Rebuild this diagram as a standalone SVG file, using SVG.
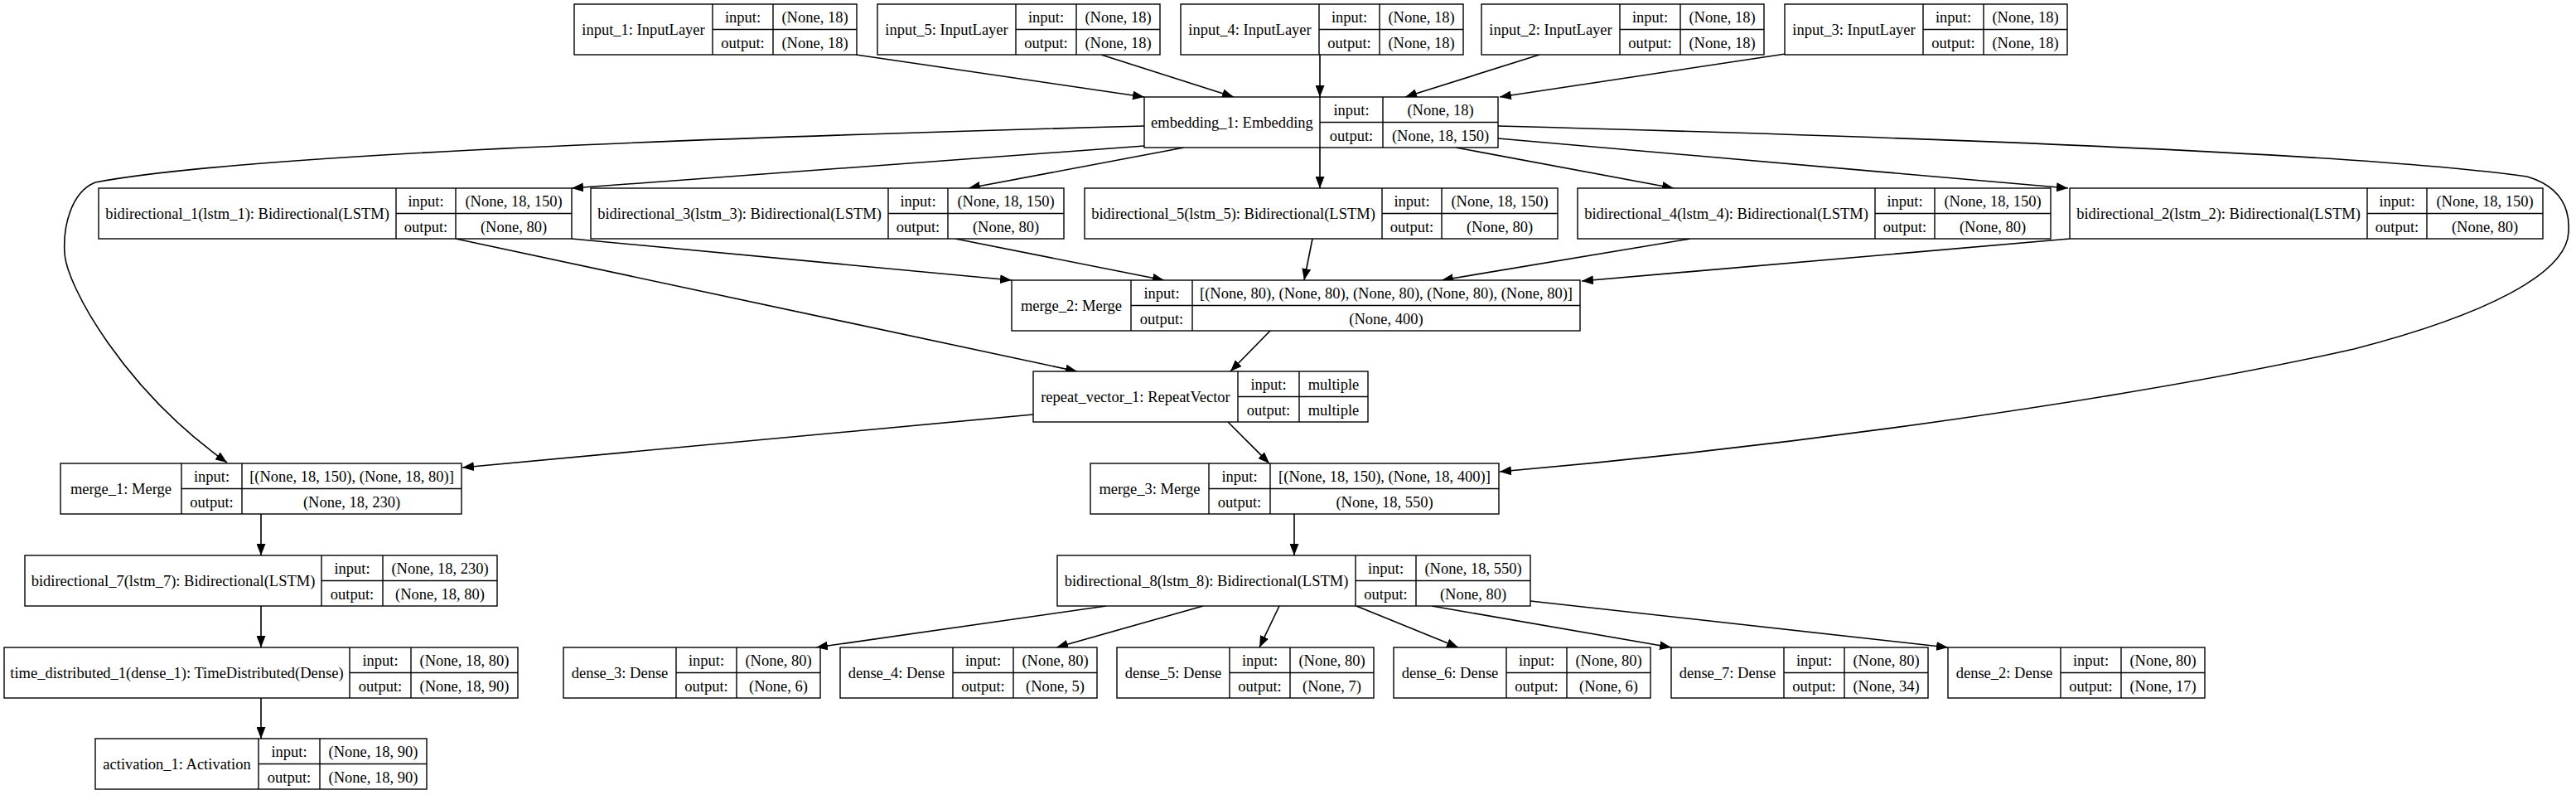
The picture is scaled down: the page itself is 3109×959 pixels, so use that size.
<svg xmlns="http://www.w3.org/2000/svg" width="3109" height="959" viewBox="0 0 3109 959">
<defs>
<marker id="ah" markerUnits="userSpaceOnUse" markerWidth="15" markerHeight="11" refX="14" refY="5.5" orient="auto"><path d="M0,0 L14,5.5 L0,11 z" fill="#000"/></marker>
<style>
.b{fill:#fff;stroke:#000;stroke-width:1.4}
.d{stroke:#000;stroke-width:1.4;fill:none}
.t{font-family:"Liberation Serif","Times New Roman",serif;font-size:18.5px;fill:#000;text-anchor:middle}
.e{stroke:#000;stroke-width:1.6;fill:none;marker-end:url(#ah)}
</style>
</defs>
<rect width="3109" height="959" fill="#fff"/>
<g id="connectors">
<path class="e" d="M1033,66 L1381,117"/>
<path class="e" d="M1329,66 L1489,117"/>
<path class="e" d="M1593,66 L1593,117"/>
<path class="e" d="M1858,66 L1696,117"/>
<path class="e" d="M2155,65 L1810,117"/>
<path class="e" d="M1381,176 L690,227"/>
<path class="e" d="M1429,178 L1169,227"/>
<path class="e" d="M1593,178 L1593,227"/>
<path class="e" d="M1757,178 L2020,227"/>
<path class="e" d="M1808,167 L2496,227"/>
<path class="e" d="M1381,152 C900,165 300,185 115,220 C85,232 76,275 78,305 C80,345 150,470 274,558"/>
<path class="e" d="M1808,152 C2300,165 2850,185 3050,213 C3090,225 3102,250 3100,280 C3098,330 3000,380 2841,421 C2600,475 2200,535 1810,569"/>
<path class="e" d="M690,288 L1221,338"/>
<path class="e" d="M1153,288 L1405,338"/>
<path class="e" d="M1584,288 L1574,338"/>
<path class="e" d="M2040,288 L1740,338"/>
<path class="e" d="M2498,288 L1909,339"/>
<path class="e" d="M550,288 L1300,448"/>
<path class="e" d="M1533,399 L1485,448"/>
<path class="e" d="M1247,500 L558,564"/>
<path class="e" d="M1482,509 L1532,559"/>
<path class="e" d="M315,620 L315,670"/>
<path class="e" d="M315,731 L315,781"/>
<path class="e" d="M315,842 L315,891"/>
<path class="e" d="M1562,620 L1562,670"/>
<path class="e" d="M1335,731 L985,781"/>
<path class="e" d="M1452,731 L1275,781"/>
<path class="e" d="M1544,731 L1520,781"/>
<path class="e" d="M1637,731 L1760,781"/>
<path class="e" d="M1728,731 L2017,781"/>
<path class="e" d="M1847,725 L2351,781"/>
</g>
<g id="input_1"><rect class="b" x="693" y="5" width="341" height="61"/><path class="d" d="M860,5V66M933,5V66M860,35.5H1034"/><text class="t" x="776.5" y="42">input_1: InputLayer</text><text class="t" x="896.5" y="27">input:</text><text class="t" x="896.5" y="57.5">output:</text><text class="t" x="983.5" y="27">(None, 18)</text><text class="t" x="983.5" y="57.5">(None, 18)</text></g>
<g id="input_5"><rect class="b" x="1059" y="5" width="341" height="61"/><path class="d" d="M1226,5V66M1299,5V66M1226,35.5H1400"/><text class="t" x="1142.5" y="42">input_5: InputLayer</text><text class="t" x="1262.5" y="27">input:</text><text class="t" x="1262.5" y="57.5">output:</text><text class="t" x="1349.5" y="27">(None, 18)</text><text class="t" x="1349.5" y="57.5">(None, 18)</text></g>
<g id="input_4"><rect class="b" x="1425" y="5" width="341" height="61"/><path class="d" d="M1592,5V66M1665,5V66M1592,35.5H1766"/><text class="t" x="1508.5" y="42">input_4: InputLayer</text><text class="t" x="1628.5" y="27">input:</text><text class="t" x="1628.5" y="57.5">output:</text><text class="t" x="1715.5" y="27">(None, 18)</text><text class="t" x="1715.5" y="57.5">(None, 18)</text></g>
<g id="input_2"><rect class="b" x="1788" y="5" width="341" height="61"/><path class="d" d="M1955,5V66M2028,5V66M1955,35.5H2129"/><text class="t" x="1871.5" y="42">input_2: InputLayer</text><text class="t" x="1991.5" y="27">input:</text><text class="t" x="1991.5" y="57.5">output:</text><text class="t" x="2078.5" y="27">(None, 18)</text><text class="t" x="2078.5" y="57.5">(None, 18)</text></g>
<g id="input_3"><rect class="b" x="2154" y="5" width="341" height="61"/><path class="d" d="M2321,5V66M2394,5V66M2321,35.5H2495"/><text class="t" x="2237.5" y="42">input_3: InputLayer</text><text class="t" x="2357.5" y="27">input:</text><text class="t" x="2357.5" y="57.5">output:</text><text class="t" x="2444.5" y="27">(None, 18)</text><text class="t" x="2444.5" y="57.5">(None, 18)</text></g>
<g id="embedding_1"><rect class="b" x="1381" y="117" width="427" height="61"/><path class="d" d="M1593,117V178M1669,117V178M1593,147.5H1808"/><text class="t" x="1487" y="154">embedding_1: Embedding</text><text class="t" x="1631" y="139">input:</text><text class="t" x="1631" y="169.5">output:</text><text class="t" x="1738.5" y="139">(None, 18)</text><text class="t" x="1738.5" y="169.5">(None, 18, 150)</text></g>
<g id="bidirectional_1"><rect class="b" x="119" y="227" width="571" height="61"/><path class="d" d="M478,227V288M550,227V288M478,257.5H690"/><text class="t" x="298.5" y="264">bidirectional_1(lstm_1): Bidirectional(LSTM)</text><text class="t" x="514" y="249">input:</text><text class="t" x="514" y="279.5">output:</text><text class="t" x="620" y="249">(None, 18, 150)</text><text class="t" x="620" y="279.5">(None, 80)</text></g>
<g id="bidirectional_3"><rect class="b" x="713" y="227" width="571" height="61"/><path class="d" d="M1072,227V288M1144,227V288M1072,257.5H1284"/><text class="t" x="892.5" y="264">bidirectional_3(lstm_3): Bidirectional(LSTM)</text><text class="t" x="1108" y="249">input:</text><text class="t" x="1108" y="279.5">output:</text><text class="t" x="1214" y="249">(None, 18, 150)</text><text class="t" x="1214" y="279.5">(None, 80)</text></g>
<g id="bidirectional_5"><rect class="b" x="1309" y="227" width="571" height="61"/><path class="d" d="M1668,227V288M1740,227V288M1668,257.5H1880"/><text class="t" x="1488.5" y="264">bidirectional_5(lstm_5): Bidirectional(LSTM)</text><text class="t" x="1704" y="249">input:</text><text class="t" x="1704" y="279.5">output:</text><text class="t" x="1810" y="249">(None, 18, 150)</text><text class="t" x="1810" y="279.5">(None, 80)</text></g>
<g id="bidirectional_4"><rect class="b" x="1904" y="227" width="571" height="61"/><path class="d" d="M2263,227V288M2335,227V288M2263,257.5H2475"/><text class="t" x="2083.5" y="264">bidirectional_4(lstm_4): Bidirectional(LSTM)</text><text class="t" x="2299" y="249">input:</text><text class="t" x="2299" y="279.5">output:</text><text class="t" x="2405" y="249">(None, 18, 150)</text><text class="t" x="2405" y="279.5">(None, 80)</text></g>
<g id="bidirectional_2"><rect class="b" x="2498" y="227" width="571" height="61"/><path class="d" d="M2857,227V288M2929,227V288M2857,257.5H3069"/><text class="t" x="2677.5" y="264">bidirectional_2(lstm_2): Bidirectional(LSTM)</text><text class="t" x="2893" y="249">input:</text><text class="t" x="2893" y="279.5">output:</text><text class="t" x="2999" y="249">(None, 18, 150)</text><text class="t" x="2999" y="279.5">(None, 80)</text></g>
<g id="merge_2"><rect class="b" x="1221" y="338" width="686" height="61"/><path class="d" d="M1365,338V399M1439,338V399M1365,368.5H1907"/><text class="t" x="1293" y="375">merge_2: Merge</text><text class="t" x="1402" y="360">input:</text><text class="t" x="1402" y="390.5">output:</text><text class="t" x="1673" y="360">[(None, 80), (None, 80), (None, 80), (None, 80), (None, 80)]</text><text class="t" x="1673" y="390.5">(None, 400)</text></g>
<g id="repeat_vector_1"><rect class="b" x="1247" y="448" width="404" height="61"/><path class="d" d="M1494,448V509M1568,448V509M1494,478.5H1651"/><text class="t" x="1370.5" y="485">repeat_vector_1: RepeatVector</text><text class="t" x="1531" y="470">input:</text><text class="t" x="1531" y="500.5">output:</text><text class="t" x="1609.5" y="470">multiple</text><text class="t" x="1609.5" y="500.5">multiple</text></g>
<g id="merge_1"><rect class="b" x="73" y="559" width="484" height="61"/><path class="d" d="M219,559V620M292,559V620M219,589.5H557"/><text class="t" x="146" y="596">merge_1: Merge</text><text class="t" x="255.5" y="581">input:</text><text class="t" x="255.5" y="611.5">output:</text><text class="t" x="424.5" y="581">[(None, 18, 150), (None, 18, 80)]</text><text class="t" x="424.5" y="611.5">(None, 18, 230)</text></g>
<g id="merge_3"><rect class="b" x="1316" y="559" width="493" height="61"/><path class="d" d="M1459,559V620M1533,559V620M1459,589.5H1809"/><text class="t" x="1387.5" y="596">merge_3: Merge</text><text class="t" x="1496" y="581">input:</text><text class="t" x="1496" y="611.5">output:</text><text class="t" x="1671" y="581">[(None, 18, 150), (None, 18, 400)]</text><text class="t" x="1671" y="611.5">(None, 18, 550)</text></g>
<g id="bidirectional_7"><rect class="b" x="30" y="670" width="570" height="61"/><path class="d" d="M388,670V731M462,670V731M388,700.5H600"/><text class="t" x="209" y="707">bidirectional_7(lstm_7): Bidirectional(LSTM)</text><text class="t" x="425" y="692">input:</text><text class="t" x="425" y="722.5">output:</text><text class="t" x="531" y="692">(None, 18, 230)</text><text class="t" x="531" y="722.5">(None, 18, 80)</text></g>
<g id="bidirectional_8"><rect class="b" x="1276" y="670" width="571" height="61"/><path class="d" d="M1636,670V731M1709,670V731M1636,700.5H1847"/><text class="t" x="1456" y="707">bidirectional_8(lstm_8): Bidirectional(LSTM)</text><text class="t" x="1672.5" y="692">input:</text><text class="t" x="1672.5" y="722.5">output:</text><text class="t" x="1778" y="692">(None, 18, 550)</text><text class="t" x="1778" y="722.5">(None, 80)</text></g>
<g id="time_distributed_1"><rect class="b" x="5" y="781" width="620" height="61"/><path class="d" d="M422,781V842M496,781V842M422,811.5H625"/><text class="t" x="213.5" y="818">time_distributed_1(dense_1): TimeDistributed(Dense)</text><text class="t" x="459" y="803">input:</text><text class="t" x="459" y="833.5">output:</text><text class="t" x="560.5" y="803">(None, 18, 80)</text><text class="t" x="560.5" y="833.5">(None, 18, 90)</text></g>
<g id="activation_1"><rect class="b" x="115" y="891" width="400" height="61"/><path class="d" d="M312,891V952M386,891V952M312,921.5H515"/><text class="t" x="213.5" y="928">activation_1: Activation</text><text class="t" x="349" y="913">input:</text><text class="t" x="349" y="943.5">output:</text><text class="t" x="450.5" y="913">(None, 18, 90)</text><text class="t" x="450.5" y="943.5">(None, 18, 90)</text></g>
<g id="dense_3"><rect class="b" x="680" y="781" width="310" height="61"/><path class="d" d="M816,781V842M889,781V842M816,811.5H990"/><text class="t" x="748" y="818">dense_3: Dense</text><text class="t" x="852.5" y="803">input:</text><text class="t" x="852.5" y="833.5">output:</text><text class="t" x="939.5" y="803">(None, 80)</text><text class="t" x="939.5" y="833.5">(None, 6)</text></g>
<g id="dense_4"><rect class="b" x="1014" y="781" width="310" height="61"/><path class="d" d="M1150,781V842M1223,781V842M1150,811.5H1324"/><text class="t" x="1082" y="818">dense_4: Dense</text><text class="t" x="1186.5" y="803">input:</text><text class="t" x="1186.5" y="833.5">output:</text><text class="t" x="1273.5" y="803">(None, 80)</text><text class="t" x="1273.5" y="833.5">(None, 5)</text></g>
<g id="dense_5"><rect class="b" x="1348" y="781" width="310" height="61"/><path class="d" d="M1484,781V842M1557,781V842M1484,811.5H1658"/><text class="t" x="1416" y="818">dense_5: Dense</text><text class="t" x="1520.5" y="803">input:</text><text class="t" x="1520.5" y="833.5">output:</text><text class="t" x="1607.5" y="803">(None, 80)</text><text class="t" x="1607.5" y="833.5">(None, 7)</text></g>
<g id="dense_6"><rect class="b" x="1682" y="781" width="310" height="61"/><path class="d" d="M1818,781V842M1891,781V842M1818,811.5H1992"/><text class="t" x="1750" y="818">dense_6: Dense</text><text class="t" x="1854.5" y="803">input:</text><text class="t" x="1854.5" y="833.5">output:</text><text class="t" x="1941.5" y="803">(None, 80)</text><text class="t" x="1941.5" y="833.5">(None, 6)</text></g>
<g id="dense_7"><rect class="b" x="2017" y="781" width="310" height="61"/><path class="d" d="M2153,781V842M2226,781V842M2153,811.5H2327"/><text class="t" x="2085" y="818">dense_7: Dense</text><text class="t" x="2189.5" y="803">input:</text><text class="t" x="2189.5" y="833.5">output:</text><text class="t" x="2276.5" y="803">(None, 80)</text><text class="t" x="2276.5" y="833.5">(None, 34)</text></g>
<g id="dense_2"><rect class="b" x="2351" y="781" width="310" height="61"/><path class="d" d="M2487,781V842M2560,781V842M2487,811.5H2661"/><text class="t" x="2419" y="818">dense_2: Dense</text><text class="t" x="2523.5" y="803">input:</text><text class="t" x="2523.5" y="833.5">output:</text><text class="t" x="2610.5" y="803">(None, 80)</text><text class="t" x="2610.5" y="833.5">(None, 17)</text></g>
</svg>
